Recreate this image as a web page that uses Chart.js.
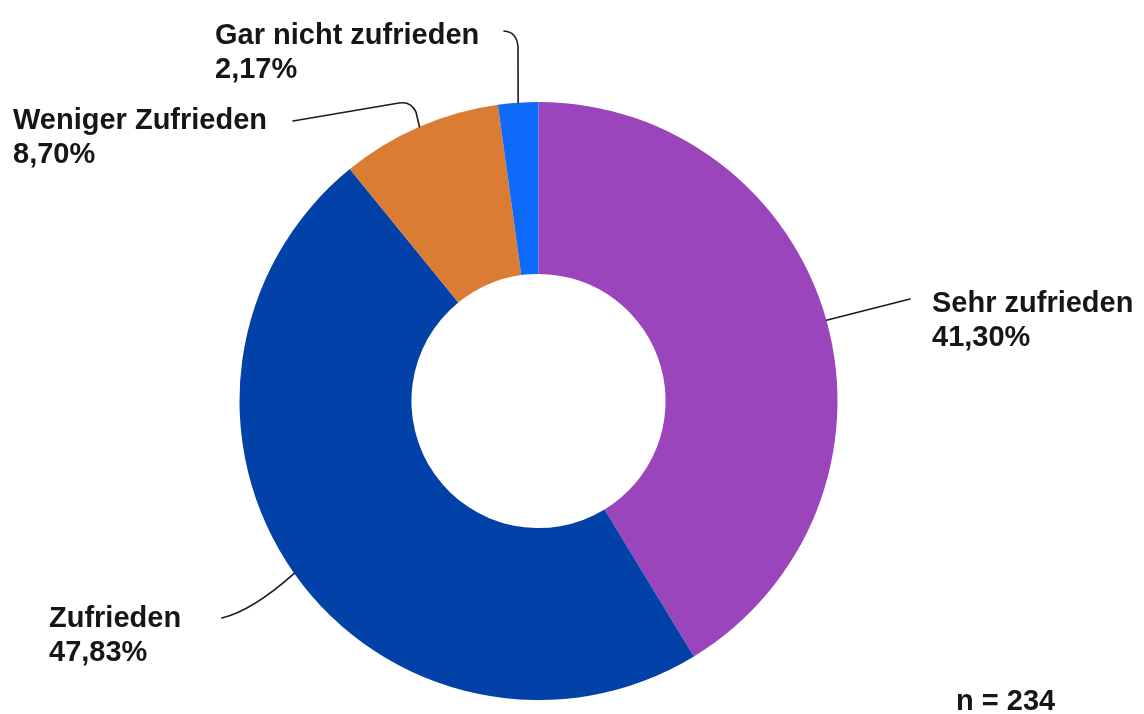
<!DOCTYPE html>
<html>
<head>
<meta charset="utf-8">
<script src="https://cdn.jsdelivr.net/npm/chart.js@4/dist/chart.umd.min.js"></script>
<style>
  html, body { margin: 0; padding: 0; background: #ffffff; }
  #wrap { width: 1144px; height: 714px; position: relative; }
</style>
</head>
<body>
<div id="wrap"><canvas id="c" width="1144" height="714"></canvas></div>
<script>
// Survey result: satisfaction shares (percent)
const categories = ['Sehr zufrieden', 'Zufrieden', 'Weniger Zufrieden', 'Gar nicht zufrieden'];
const shares = [41.30, 47.83, 8.70, 2.17];
const sliceColors = ['#9B45BD', '#0242A8', '#DB7C35', '#0E6BFA'];
const sampleNote = 'n = 234';

// Where each callout label sits and how its leader line bends.
// path segments: ['L', x, y] straight, ['Q', cx, cy, x, y] rounded corner
const callouts = [
  { tx: 932, ty: 312, path: [['L', 910, 299]] },
  { tx: 49,  ty: 627, path: [['Q', 252, 611, 222, 618]] },
  { tx: 13,  ty: 129, path: [['L', 416, 112], ['Q', 411, 101, 399, 103], ['L', 293, 121]] },
  { tx: 215, ty: 44,  path: [['L', 518, 47], ['Q', 517, 32, 504, 31]] }
];

const FONT = 'bold 29px "Liberation Sans", Arial, Helvetica, sans-serif';
const LINE_STEP = 34;

const fmtPct = v => v.toFixed(2).replace('.', ',') + '%';

const calloutPlugin = {
  id: 'callouts',
  afterDraw(chart) {
    const ctx = chart.ctx;
    const arcs = chart.getDatasetMeta(0).data;
    ctx.save();
    // leader lines from the outer edge of each slice at its mid-angle
    ctx.strokeStyle = '#1c1c1c';
    ctx.lineWidth = 1.6;
    ctx.lineJoin = 'round';
    ctx.lineCap = 'round';
    arcs.forEach((arc, i) => {
      const p = arc.getProps(['x', 'y', 'startAngle', 'endAngle', 'outerRadius'], true);
      const mid = (p.startAngle + p.endAngle) / 2;
      const sx = p.x + Math.cos(mid) * p.outerRadius;
      const sy = p.y + Math.sin(mid) * p.outerRadius;
      ctx.beginPath();
      ctx.moveTo(sx, sy);
      callouts[i].path.forEach(seg => {
        if (seg[0] === 'L') ctx.lineTo(seg[1], seg[2]);
        else ctx.quadraticCurveTo(seg[1], seg[2], seg[3], seg[4]);
      });
      ctx.stroke();
    });
    // two-line labels: name, then share
    ctx.fillStyle = '#161616';
    ctx.font = FONT;
    ctx.textAlign = 'left';
    ctx.textBaseline = 'alphabetic';
    categories.forEach((name, i) => {
      const c = callouts[i];
      ctx.fillText(name, c.tx, c.ty);
      ctx.fillText(fmtPct(shares[i]), c.tx, c.ty + LINE_STEP);
    });
    ctx.fillText(sampleNote, 956, 710);
    ctx.restore();
  }
};

new Chart(document.getElementById('c'), {
  type: 'doughnut',
  data: {
    labels: categories,
    datasets: [{
      data: shares,
      backgroundColor: sliceColors,
      borderWidth: 0,
      hoverOffset: 0
    }]
  },
  options: {
    responsive: false,
    animation: false,
    devicePixelRatio: 1,
    events: [],
    cutout: '42.5%',
    layout: { padding: { left: 239.5, right: 306.5, top: 102, bottom: 14 } },
    plugins: {
      legend: { display: false },
      tooltip: { enabled: false }
    }
  },
  plugins: [calloutPlugin]
});
</script>
</body>
</html>
